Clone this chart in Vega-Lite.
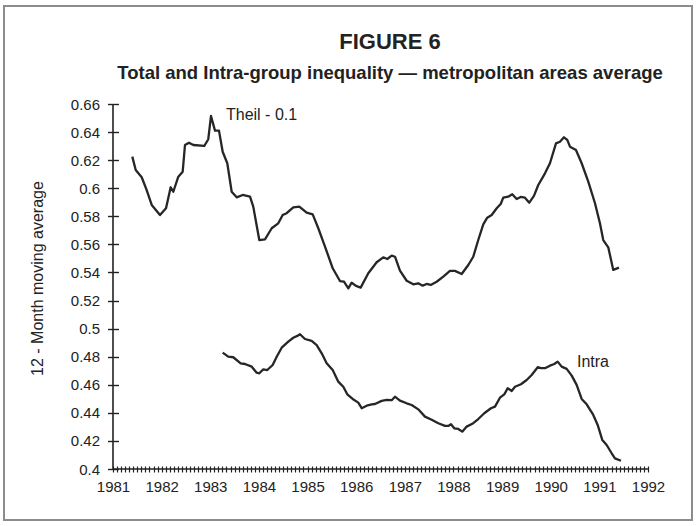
{
  "$schema": "https://vega.github.io/schema/vega-lite/v6.json",
  "width": 688,
  "height": 514,
  "autosize": {"type": "none"},
  "padding": {"left": 4, "top": 6, "right": 6, "bottom": 6},
  "background": "white",
  "config": {
    "view": {"stroke": "#8c8c8c", "strokeWidth": 2, "fill": "white"},
    "font": "Liberation Sans"
  },
  "title": {
    "text": "FIGURE 6",
    "subtitle": "Total and Intra-group inequality — metropolitan areas average",
    "fontSize": 22,
    "fontWeight": "bold",
    "color": "#222222",
    "subtitleFontSize": 18.5,
    "subtitleFontWeight": "bold",
    "subtitleColor": "#222222",
    "subtitleFont": "Liberation Sans",
    "font": "Liberation Sans",
    "anchor": "middle",
    "frame": "group",
    "dx": 42,
    "offset": -77,
    "subtitlePadding": 9.5
  },
  "datasets": {
    "axes": [
      {"year": 1981, "year2": 1992, "value": 0.4, "value2": 0.4},
      {"year": 1981, "year2": 1981, "value": 0.4, "value2": 0.66}
    ],
    "labels": [
      {"label": "Theil - 0.1", "year": 1983.323, "value": 0.6522},
      {"label": "Intra", "year": 1990.54, "value": 0.4762}
    ],
    "lines": [
      {"series": "Theil", "year": 1981.397, "value": 0.6225},
      {"series": "Theil", "year": 1981.467, "value": 0.613},
      {"series": "Theil", "year": 1981.59, "value": 0.6078},
      {"series": "Theil", "year": 1981.678, "value": 0.6},
      {"series": "Theil", "year": 1981.796, "value": 0.5881},
      {"series": "Theil", "year": 1981.966, "value": 0.5809},
      {"series": "Theil", "year": 1982.09, "value": 0.5857},
      {"series": "Theil", "year": 1982.186, "value": 0.6007},
      {"series": "Theil", "year": 1982.24, "value": 0.5975},
      {"series": "Theil", "year": 1982.343, "value": 0.6082},
      {"series": "Theil", "year": 1982.433, "value": 0.6118},
      {"series": "Theil", "year": 1982.48, "value": 0.6308},
      {"series": "Theil", "year": 1982.563, "value": 0.6324},
      {"series": "Theil", "year": 1982.651, "value": 0.6308},
      {"series": "Theil", "year": 1982.877, "value": 0.6301},
      {"series": "Theil", "year": 1982.959, "value": 0.6349},
      {"series": "Theil", "year": 1983.015, "value": 0.6515},
      {"series": "Theil", "year": 1983.097, "value": 0.641},
      {"series": "Theil", "year": 1983.179, "value": 0.641},
      {"series": "Theil", "year": 1983.255, "value": 0.626},
      {"series": "Theil", "year": 1983.35, "value": 0.6178},
      {"series": "Theil", "year": 1983.44, "value": 0.5975},
      {"series": "Theil", "year": 1983.543, "value": 0.5935},
      {"series": "Theil", "year": 1983.667, "value": 0.5952},
      {"series": "Theil", "year": 1983.817, "value": 0.594},
      {"series": "Theil", "year": 1983.884, "value": 0.5869},
      {"series": "Theil", "year": 1984.008, "value": 0.5631},
      {"series": "Theil", "year": 1984.125, "value": 0.5636},
      {"series": "Theil", "year": 1984.263, "value": 0.5715},
      {"series": "Theil", "year": 1984.398, "value": 0.575},
      {"series": "Theil", "year": 1984.489, "value": 0.5809},
      {"series": "Theil", "year": 1984.571, "value": 0.5822},
      {"series": "Theil", "year": 1984.707, "value": 0.5864},
      {"series": "Theil", "year": 1984.83, "value": 0.5869},
      {"series": "Theil", "year": 1984.982, "value": 0.5826},
      {"series": "Theil", "year": 1985.106, "value": 0.5814},
      {"series": "Theil", "year": 1985.221, "value": 0.5715},
      {"series": "Theil", "year": 1985.359, "value": 0.5584},
      {"series": "Theil", "year": 1985.517, "value": 0.543},
      {"series": "Theil", "year": 1985.667, "value": 0.5339},
      {"series": "Theil", "year": 1985.749, "value": 0.5334},
      {"series": "Theil", "year": 1985.838, "value": 0.5287},
      {"series": "Theil", "year": 1985.907, "value": 0.5327},
      {"series": "Theil", "year": 1985.996, "value": 0.5304},
      {"series": "Theil", "year": 1986.092, "value": 0.5292},
      {"series": "Theil", "year": 1986.249, "value": 0.5394},
      {"series": "Theil", "year": 1986.421, "value": 0.5473},
      {"series": "Theil", "year": 1986.557, "value": 0.5508},
      {"series": "Theil", "year": 1986.639, "value": 0.5496},
      {"series": "Theil", "year": 1986.73, "value": 0.552},
      {"series": "Theil", "year": 1986.798, "value": 0.5512},
      {"series": "Theil", "year": 1986.9, "value": 0.5413},
      {"series": "Theil", "year": 1987.038, "value": 0.5341},
      {"series": "Theil", "year": 1987.174, "value": 0.5316},
      {"series": "Theil", "year": 1987.277, "value": 0.5323},
      {"series": "Theil", "year": 1987.367, "value": 0.5306},
      {"series": "Theil", "year": 1987.449, "value": 0.5318},
      {"series": "Theil", "year": 1987.532, "value": 0.5311},
      {"series": "Theil", "year": 1987.655, "value": 0.5334},
      {"series": "Theil", "year": 1987.791, "value": 0.537},
      {"series": "Theil", "year": 1987.928, "value": 0.5411},
      {"series": "Theil", "year": 1988.031, "value": 0.5411},
      {"series": "Theil", "year": 1988.169, "value": 0.5389},
      {"series": "Theil", "year": 1988.305, "value": 0.5453},
      {"series": "Theil", "year": 1988.407, "value": 0.5512},
      {"series": "Theil", "year": 1988.51, "value": 0.5631},
      {"series": "Theil", "year": 1988.613, "value": 0.5743},
      {"series": "Theil", "year": 1988.695, "value": 0.579},
      {"series": "Theil", "year": 1988.786, "value": 0.5809},
      {"series": "Theil", "year": 1988.889, "value": 0.5857},
      {"series": "Theil", "year": 1988.971, "value": 0.5888},
      {"series": "Theil", "year": 1989.024, "value": 0.5933},
      {"series": "Theil", "year": 1989.127, "value": 0.594},
      {"series": "Theil", "year": 1989.209, "value": 0.5957},
      {"series": "Theil", "year": 1989.3, "value": 0.5923},
      {"series": "Theil", "year": 1989.382, "value": 0.5938},
      {"series": "Theil", "year": 1989.47, "value": 0.5933},
      {"series": "Theil", "year": 1989.559, "value": 0.5897},
      {"series": "Theil", "year": 1989.655, "value": 0.5945},
      {"series": "Theil", "year": 1989.744, "value": 0.6023},
      {"series": "Theil", "year": 1989.882, "value": 0.6106},
      {"series": "Theil", "year": 1989.984, "value": 0.6178},
      {"series": "Theil", "year": 1990.108, "value": 0.632},
      {"series": "Theil", "year": 1990.19, "value": 0.6331},
      {"series": "Theil", "year": 1990.272, "value": 0.6363},
      {"series": "Theil", "year": 1990.34, "value": 0.6344},
      {"series": "Theil", "year": 1990.396, "value": 0.6296},
      {"series": "Theil", "year": 1990.519, "value": 0.6272},
      {"series": "Theil", "year": 1990.636, "value": 0.6178},
      {"series": "Theil", "year": 1990.772, "value": 0.6047},
      {"series": "Theil", "year": 1990.91, "value": 0.5893},
      {"series": "Theil", "year": 1991.012, "value": 0.575},
      {"series": "Theil", "year": 1991.08, "value": 0.5631},
      {"series": "Theil", "year": 1991.183, "value": 0.5579},
      {"series": "Theil", "year": 1991.286, "value": 0.5418},
      {"series": "Theil", "year": 1991.403, "value": 0.5434},
      {"series": "Intra", "year": 1983.255, "value": 0.4829},
      {"series": "Intra", "year": 1983.37, "value": 0.48},
      {"series": "Intra", "year": 1983.473, "value": 0.4796},
      {"series": "Intra", "year": 1983.625, "value": 0.4753},
      {"series": "Intra", "year": 1983.714, "value": 0.4748},
      {"series": "Intra", "year": 1983.852, "value": 0.4729},
      {"series": "Intra", "year": 1983.954, "value": 0.4686},
      {"series": "Intra", "year": 1984.008, "value": 0.4682},
      {"series": "Intra", "year": 1984.09, "value": 0.471},
      {"series": "Intra", "year": 1984.172, "value": 0.4705},
      {"series": "Intra", "year": 1984.283, "value": 0.4741},
      {"series": "Intra", "year": 1984.366, "value": 0.48},
      {"series": "Intra", "year": 1984.468, "value": 0.4864},
      {"series": "Intra", "year": 1984.604, "value": 0.4907},
      {"series": "Intra", "year": 1984.707, "value": 0.4935},
      {"series": "Intra", "year": 1984.789, "value": 0.4948},
      {"series": "Intra", "year": 1984.845, "value": 0.496},
      {"series": "Intra", "year": 1984.947, "value": 0.4926},
      {"series": "Intra", "year": 1985.085, "value": 0.4912},
      {"series": "Intra", "year": 1985.188, "value": 0.4883},
      {"series": "Intra", "year": 1985.291, "value": 0.4824},
      {"series": "Intra", "year": 1985.393, "value": 0.4753},
      {"series": "Intra", "year": 1985.517, "value": 0.4705},
      {"series": "Intra", "year": 1985.632, "value": 0.4622},
      {"series": "Intra", "year": 1985.735, "value": 0.4586},
      {"series": "Intra", "year": 1985.817, "value": 0.4532},
      {"series": "Intra", "year": 1985.928, "value": 0.4499},
      {"series": "Intra", "year": 1986.043, "value": 0.4473},
      {"series": "Intra", "year": 1986.113, "value": 0.4433},
      {"series": "Intra", "year": 1986.216, "value": 0.4451},
      {"series": "Intra", "year": 1986.319, "value": 0.4461},
      {"series": "Intra", "year": 1986.387, "value": 0.4463},
      {"series": "Intra", "year": 1986.524, "value": 0.4485},
      {"series": "Intra", "year": 1986.627, "value": 0.4492},
      {"series": "Intra", "year": 1986.73, "value": 0.449},
      {"series": "Intra", "year": 1986.798, "value": 0.4515},
      {"series": "Intra", "year": 1986.9, "value": 0.4487},
      {"series": "Intra", "year": 1987.038, "value": 0.4468},
      {"series": "Intra", "year": 1987.141, "value": 0.4456},
      {"series": "Intra", "year": 1987.277, "value": 0.4425},
      {"series": "Intra", "year": 1987.414, "value": 0.4373},
      {"series": "Intra", "year": 1987.552, "value": 0.4351},
      {"series": "Intra", "year": 1987.688, "value": 0.4326},
      {"series": "Intra", "year": 1987.826, "value": 0.4307},
      {"series": "Intra", "year": 1987.893, "value": 0.4307},
      {"series": "Intra", "year": 1987.949, "value": 0.4319},
      {"series": "Intra", "year": 1988.017, "value": 0.429},
      {"series": "Intra", "year": 1988.099, "value": 0.4285},
      {"series": "Intra", "year": 1988.181, "value": 0.4266},
      {"series": "Intra", "year": 1988.272, "value": 0.4302},
      {"series": "Intra", "year": 1988.407, "value": 0.4326},
      {"series": "Intra", "year": 1988.51, "value": 0.4356},
      {"series": "Intra", "year": 1988.634, "value": 0.4397},
      {"series": "Intra", "year": 1988.771, "value": 0.4433},
      {"series": "Intra", "year": 1988.854, "value": 0.4444},
      {"series": "Intra", "year": 1988.956, "value": 0.4508},
      {"series": "Intra", "year": 1989.045, "value": 0.4532},
      {"series": "Intra", "year": 1989.115, "value": 0.4575},
      {"series": "Intra", "year": 1989.197, "value": 0.4556},
      {"series": "Intra", "year": 1989.265, "value": 0.4586},
      {"series": "Intra", "year": 1989.388, "value": 0.4604},
      {"series": "Intra", "year": 1989.505, "value": 0.4634},
      {"series": "Intra", "year": 1989.608, "value": 0.467},
      {"series": "Intra", "year": 1989.732, "value": 0.4725},
      {"series": "Intra", "year": 1989.799, "value": 0.4718},
      {"series": "Intra", "year": 1989.882, "value": 0.4718},
      {"series": "Intra", "year": 1989.984, "value": 0.4736},
      {"series": "Intra", "year": 1990.073, "value": 0.4748},
      {"series": "Intra", "year": 1990.143, "value": 0.4765},
      {"series": "Intra", "year": 1990.225, "value": 0.4729},
      {"series": "Intra", "year": 1990.328, "value": 0.4713},
      {"series": "Intra", "year": 1990.431, "value": 0.4665},
      {"series": "Intra", "year": 1990.533, "value": 0.4599},
      {"series": "Intra", "year": 1990.636, "value": 0.4499},
      {"series": "Intra", "year": 1990.739, "value": 0.4461},
      {"series": "Intra", "year": 1990.875, "value": 0.4385},
      {"series": "Intra", "year": 1990.965, "value": 0.4314},
      {"series": "Intra", "year": 1991.06, "value": 0.4207},
      {"series": "Intra", "year": 1991.15, "value": 0.4171},
      {"series": "Intra", "year": 1991.253, "value": 0.4112},
      {"series": "Intra", "year": 1991.321, "value": 0.4076},
      {"series": "Intra", "year": 1991.444, "value": 0.4059}
    ]
  },
  "layer": [
    {
      "data": {"name": "axes"},
      "mark": {"type": "rule", "color": "#222222", "strokeWidth": 1.6},
      "encoding": {
        "x": {"field": "year", "type": "quantitative", "scale": {"domain": [1981, 1992], "range": [109, 644], "nice": false, "zero": false}},
        "x2": {"field": "year2"},
        "y": {"field": "value", "type": "quantitative", "scale": {"domain": [0.4, 0.66], "range": [463, 98], "nice": false, "zero": false}},
        "y2": {"field": "value2"}
      }
    },
    {
      "data": {"name": "lines"},
      "mark": {"type": "line", "color": "#262626", "strokeWidth": 2.3, "strokeJoin": "round"},
      "encoding": {
        "x": {
          "field": "year", "type": "quantitative",
          "scale": {"domain": [1981, 1992], "range": [109, 644], "nice": false, "zero": false},
          "axis": {
            "title": null,
            "values": [1981,1981.0833,1981.1667,1981.25,1981.3333,1981.4167,1981.5,1981.5833,1981.6667,1981.75,1981.8333,1981.9167,
                       1982,1982.0833,1982.1667,1982.25,1982.3333,1982.4167,1982.5,1982.5833,1982.6667,1982.75,1982.8333,1982.9167,
                       1983,1983.0833,1983.1667,1983.25,1983.3333,1983.4167,1983.5,1983.5833,1983.6667,1983.75,1983.8333,1983.9167,
                       1984,1984.0833,1984.1667,1984.25,1984.3333,1984.4167,1984.5,1984.5833,1984.6667,1984.75,1984.8333,1984.9167,
                       1985,1985.0833,1985.1667,1985.25,1985.3333,1985.4167,1985.5,1985.5833,1985.6667,1985.75,1985.8333,1985.9167,
                       1986,1986.0833,1986.1667,1986.25,1986.3333,1986.4167,1986.5,1986.5833,1986.6667,1986.75,1986.8333,1986.9167,
                       1987,1987.0833,1987.1667,1987.25,1987.3333,1987.4167,1987.5,1987.5833,1987.6667,1987.75,1987.8333,1987.9167,
                       1988,1988.0833,1988.1667,1988.25,1988.3333,1988.4167,1988.5,1988.5833,1988.6667,1988.75,1988.8333,1988.9167,
                       1989,1989.0833,1989.1667,1989.25,1989.3333,1989.4167,1989.5,1989.5833,1989.6667,1989.75,1989.8333,1989.9167,
                       1990,1990.0833,1990.1667,1990.25,1990.3333,1990.4167,1990.5,1990.5833,1990.6667,1990.75,1990.8333,1990.9167,
                       1991,1991.0833,1991.1667,1991.25,1991.3333,1991.4167,1991.5,1991.5833,1991.6667,1991.75,1991.8333,1991.9167,
                       1992],
            "tickCount": 500,
            "tickMinStep": 0.01,
            "labelExpr": "datum.value % 1 === 0 ? format(datum.value, 'd') : ''",
            "labelOverlap": false,
            "labelFlush": false,
            "domain": false,
            "grid": false,
            "tickSize": 6,
            "tickWidth": 1.2,
            "tickColor": "#222222",
            "offset": -54,
            "labelPadding": 7,
            "labelFontSize": 15,
            "labelColor": "#222222",
            "labelFont": "Liberation Sans"
          }
        },
        "y": {
          "field": "value", "type": "quantitative",
          "scale": {"domain": [0.4, 0.66], "range": [463, 98], "nice": false, "zero": false},
          "axis": {
            "title": "12 - Month moving average",
            "values": [0.4, 0.42, 0.44, 0.46, 0.48, 0.5, 0.52, 0.54, 0.56, 0.58, 0.6, 0.62, 0.64, 0.66],
            "tickCount": 100,
            "format": ".2~f",
            "labelOverlap": false,
            "domain": false,
            "grid": false,
            "tickSize": 11,
            "tickWidth": 1.4,
            "tickColor": "#222222",
            "offset": -114.5,
            "labelPadding": 8,
            "labelFontSize": 15,
            "labelColor": "#222222",
            "labelFont": "Liberation Sans",
            "titleFont": "Liberation Sans",
            "titleFontSize": 16,
            "titleFontWeight": "normal",
            "titleColor": "#222222",
            "titleAngle": 270,
            "titleAlign": "center",
            "titleBaseline": "middle",
            "titleX": -81.5,
            "titleY": 272
          }
        },
        "detail": {"field": "series"}
      }
    },
    {
      "data": {"name": "labels"},
      "mark": {"type": "text", "align": "left", "baseline": "middle", "fontSize": 16, "color": "#222222", "font": "Liberation Sans"},
      "encoding": {
        "x": {"field": "year", "type": "quantitative"},
        "y": {"field": "value", "type": "quantitative"},
        "text": {"field": "label"}
      }
    }
  ]
}
